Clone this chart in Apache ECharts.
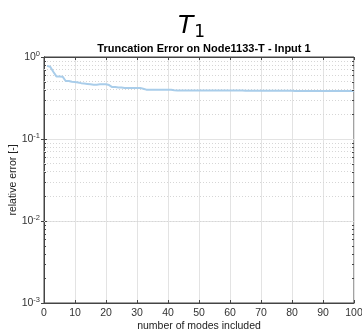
<!DOCTYPE html>
<html><head><meta charset="utf-8">
<script src="https://cdn.jsdelivr.net/npm/echarts@6/dist/echarts.min.js"></script>
<style>html,body{margin:0;padding:0;background:#fff}#c{width:362px;height:331px}</style>
</head><body><div id="c"></div>
<script>
const modes = [];
for (let i = 1; i <= 100; i++) modes.push(i);
const relErr = [
0.78,0.76,0.66,0.58,0.58,0.575,0.51,0.51,0.50,0.495,
0.49,0.48,0.475,0.47,0.465,0.46,0.46,0.465,0.465,0.465,
0.455,0.43,0.43,0.425,0.425,0.42,0.42,0.42,0.42,0.42,
0.42,0.41,0.40,0.40,0.40,0.40,0.40,0.40,0.40,0.40,
0.398,0.392,0.39,0.39,0.39,0.39,0.39,0.39,0.39,0.39,
0.39,0.39,0.39,0.39,0.39,0.39,0.39,0.39,0.39,0.39,
0.389,0.389,0.389,0.389,0.388,0.388,0.388,0.388,0.388,0.388,
0.387,0.387,0.387,0.387,0.387,0.387,0.387,0.387,0.387,0.387,
0.386,0.386,0.386,0.386,0.386,0.386,0.386,0.386,0.386,0.386,
0.385,0.385,0.385,0.385,0.385,0.385,0.385,0.385,0.385,0.385
];
const xMin = 0, xMax = 100, xStep = 10;
const yMin = 0.001, yMax = 1;
const minorVals = [];
for (let e = -3; e < 0; e++) for (let m = 2; m <= 9; m++) minorVals.push(m * Math.pow(10, e));

const chart = echarts.init(document.getElementById('c'));
const font = 'Liberation Sans, Arial, sans-serif';
const axisCommon = {
  axisLine: {show: true, lineStyle: {color: '#444'}},
  axisTick: {inside: true, length: 3, lineStyle: {color: '#444'}}
};
chart.setOption({
  animation: false,
  title: [
    {text: '{i|T}{s|1}', left: 173, top: 7,
     textStyle: {fontWeight: 'normal', rich: {
       i: {fontFamily: 'DejaVu Sans', fontStyle: 'italic', fontWeight: 'normal', fontSize: 25, color: '#000'},
       s: {fontFamily: 'DejaVu Sans', fontWeight: 'normal', fontSize: 17, color: '#000', verticalAlign: 'bottom', padding: [12,0,0,1]}
     }}},
    {text: 'Truncation Error on Node1133-T - Input 1', left: 199, textAlign: 'center', top: 38,
     textStyle: {fontFamily: font, fontWeight: 'bold', fontSize: 11, color: '#000'}}
  ],
  grid: {left: 44, right: 8, top: 57, bottom: 28, outerBoundsMode: 'none', containLabel: false,
         show: true, borderColor: '#444', borderWidth: 1, backgroundColor: 'transparent'},
  xAxis: [Object.assign({
    type: 'value', min: xMin, max: xMax, interval: xStep,
    name: 'number of modes included', nameLocation: 'middle', nameGap: 18, nameMoveOverlap: false,
    nameTextStyle: {fontFamily: font, fontSize: 10.5, color: '#222'},
    axisLabel: {fontFamily: font, fontSize: 10.5, color: '#333', margin: 5},
    splitLine: {show: true, lineStyle: {color: '#e3e3e3'}}
  }, axisCommon), Object.assign({
    type: 'value', min: xMin, max: xMax, interval: xStep, position: 'top',
    axisLabel: {show: false}, splitLine: {show: false}
  }, axisCommon)],
  yAxis: [Object.assign({
    type: 'log', logBase: 10, min: yMin, max: yMax,
    name: 'relative error [-]', nameLocation: 'middle', nameGap: 25, nameMoveOverlap: false,
    nameTextStyle: {fontFamily: font, fontSize: 10.5, color: '#222'},
    axisLabel: {margin: 4, formatter: v => '{b|10}{e|' + Math.round(Math.log10(v)) + '}',
      rich: {b: {fontFamily: font, fontSize: 10.5, color: '#333'},
             e: {fontFamily: font, fontSize: 7.5, color: '#333', verticalAlign: 'top', padding: [0,0,6,0]}}},
    splitLine: {show: true, lineStyle: {color: '#e3e3e3'}}
  }, axisCommon), Object.assign({
    type: 'log', logBase: 10, min: yMin, max: yMax, position: 'right',
    axisLabel: {show: false}, splitLine: {show: false}
  }, axisCommon)],
  series: [{
    type: 'line', data: modes.map((m, i) => [m, relErr[i]]),
    showSymbol: false, lineStyle: {color: '#a9cdea', width: 2}, z: 5,
    markLine: {silent: true, symbol: 'none', label: {show: false},
      lineStyle: {color: '#d6d6d6', type: [1, 2], width: 1},
      data: minorVals.map(v => ({yAxis: v}))}
  }, {
    type: 'custom', silent: true, z: 6,
    data: minorVals.map(v => [v]),
    renderItem: (params, api) => {
      const v = api.value(0);
      const pl = api.coord([xMin, v]);
      const pr = api.coord([xMax, v]);
      const st = {stroke: '#444', lineWidth: 1};
      return {type: 'group', children: [
        {type: 'line', shape: {x1: pl[0], y1: Math.round(pl[1]) + 0.5, x2: pl[0] + 2, y2: Math.round(pl[1]) + 0.5}, style: st},
        {type: 'line', shape: {x1: pr[0] - 2, y1: Math.round(pr[1]) + 0.5, x2: pr[0], y2: Math.round(pr[1]) + 0.5}, style: st}
      ]};
    }
  }]
});
</script></body></html>
